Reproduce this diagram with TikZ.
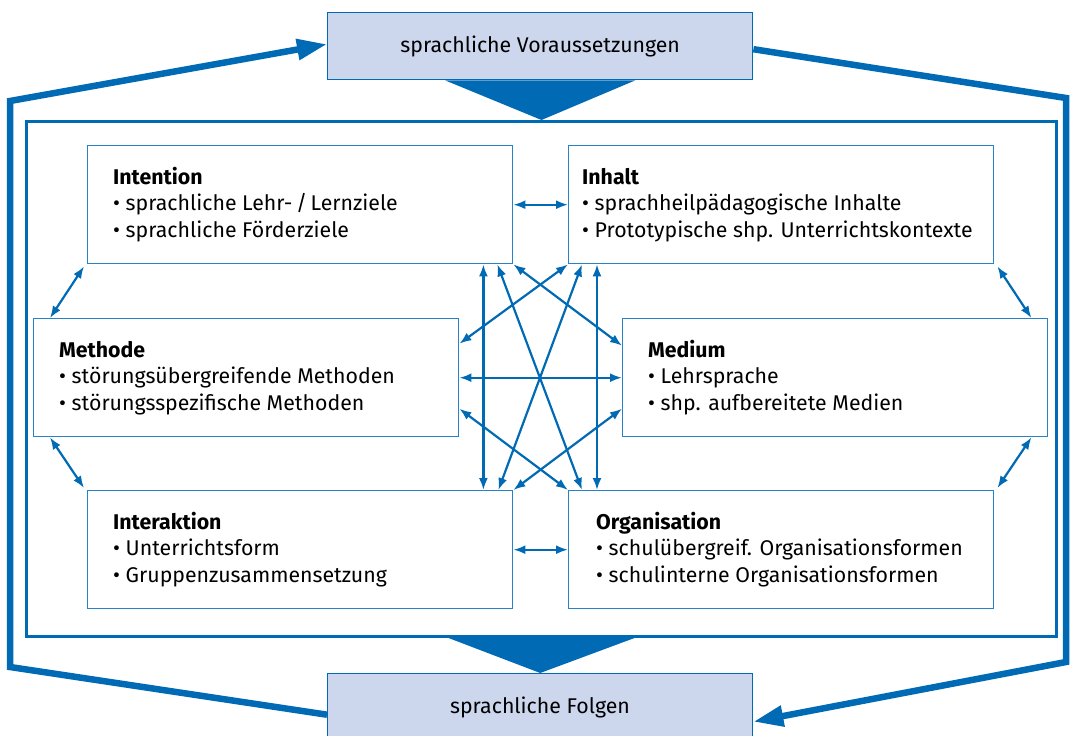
\documentclass[tikz,border=0pt]{standalone}
\usepackage{fontspec}
\setmainfont{Fira Sans}
\usetikzlibrary{arrows.meta,calc}
\definecolor{dblue}{RGB}{0,106,180}
\definecolor{mblue}{RGB}{40,130,200}
\definecolor{lfill}{RGB}{204,215,237}
\tikzset{
  box/.style={draw=mblue, line width=1.4pt, fill=white, minimum width=425pt, minimum height=118pt, anchor=north west, inner sep=0pt},
  endbox/.style={draw=dblue, line width=1.4pt, fill=lfill, minimum width=425pt, anchor=north west, inner sep=0pt},
  txt/.style={anchor=base west, align=left, inner sep=0pt, font=\fontsize{21.3}{26.5}\selectfont},
  dbl/.style={draw=dblue, line width=2.2pt, {Latex[length=12pt,width=9pt]}-{Latex[length=12pt,width=9pt]}},
  loop/.style={draw=dblue, line width=6.5pt, line join=miter},
}
\begin{document}
\begin{tikzpicture}[x=1pt,y=-1pt]
\useasboundingbox (0,0) rectangle (1077,736);
\begin{scope}
\clip (0,0) rectangle (1077,736);
% end boxes
\node[endbox, minimum height=67pt] (top) at (327,12) {};
\node[endbox, minimum height=90pt] (bot) at (327,673) {};
\node[font=\fontsize{21.3}{24}\selectfont] (toptxt) at (top.center) {sprachliche Voraussetzungen};
\node[font=\fontsize{21.3}{24}\selectfont] (bottxt) at (540,707) {sprachliche Folgen};
% inner frame
\node[draw=dblue, line width=3pt, minimum width=1030pt, minimum height=515pt, anchor=north west, inner sep=0pt] (frame) at (25,120) {};
% triangles
\fill[dblue] ($(top.south)+(-95,0)$) -- ($(top.south)+(95,0)$) -- (frame.north) -- cycle;
\fill[dblue] ($(frame.south)+(-93,0)$) -- ($(frame.south)+(93,0)$) -- (bot.north) -- cycle;
% loop arrows
\coordinate (lt) at (10,101);
\coordinate (lb) at (10,667);
\coordinate (rt) at (1066,98);
\coordinate (rb) at (1066,662);
\draw[loop, -{Triangle[length=30pt,width=20pt]}] ([yshift=4pt]bot.west) -- (lb) -- (lt) -- ([yshift=2pt]top.west);
\draw[loop, -{Triangle[length=30pt,width=20pt]}] ([yshift=-3pt]top.east) -- (rt) -- (rb) -- ([yshift=-3pt]bot.east);
\end{scope}
% inner boxes
\node[box] (intent) at (87,145) {};
\node[box] (inhalt) at (568,145) {};
\node[box] (meth) at (33,318) {};
\node[box] (med) at (622,318) {};
\node[box] (inter) at (87,490) {};
\node[box] (orga) at (568,490) {};
% texts (base = baseline of last line)
\node[txt] (t1) at ($(intent.north west)+(26,92)$) {\textbf{Intention}\\• sprachliche Lehr-\,/\,Lernziele\\• sprachliche Förderziele};
\node[txt] (t2) at ($(inhalt.north west)+(14,92)$) {\textbf{Inhalt}\\• sprachheilpädagogische Inhalte\\• Prototypische shp. Unterrichtskontexte};
\node[txt] (t3) at ($(meth.north west)+(26,92)$) {\textbf{Methode}\\• störungsübergreifende Methoden\\• störungsspezifische Methoden};
\node[txt] (t4) at ($(med.north west)+(26,92)$) {\textbf{Medium}\\• Lehrsprache\\• shp. aufbereitete Medien};
\node[txt] (t5) at ($(inter.north west)+(26,92)$) {\textbf{Interaktion}\\• Unterrichtsform\\• Gruppenzusammensetzung};
\node[txt] (t6) at ($(orga.north west)+(28,92)$) {\textbf{Organisation}\\• schulübergreif. Organisationsformen\\• schulinterne Organisationsformen};
% side connectors
\draw[dbl] (intent.east) -- (inhalt.west);
\draw[dbl] (inter.east) -- (orga.west);
\draw[dbl] (meth.east) -- (med.west);
\draw[dbl] ([xshift=-3pt,yshift=-2pt]intent.south west) -- ([xshift=17pt]meth.north west);
\draw[dbl] ([xshift=3pt,yshift=-2pt]inhalt.south east) -- ([xshift=-17pt]med.north east);
\draw[dbl] ([xshift=17pt]meth.south west) -- ([xshift=-3pt,yshift=2pt]inter.north west);
\draw[dbl] ([xshift=-17pt]med.south east) -- ([xshift=3pt,yshift=2pt]orga.north east);
% middle connectors
\draw[dbl] ([xshift=-30pt]intent.south east) -- ([xshift=-30pt]inter.north east);
\draw[dbl] ([xshift=29pt]inhalt.south west) -- ([xshift=29pt]orga.north west);
\draw[dbl] ([xshift=-16pt]intent.south east) -- ([xshift=14pt]orga.north west);
\draw[dbl] ([xshift=14pt]inhalt.south west) -- ([xshift=-15pt]inter.north east);
\draw[dbl] (intent.south east) -- ([yshift=32pt]med.west);
\draw[dbl] (inhalt.south west) -- ([yshift=34pt]meth.east);
\draw[dbl] ([yshift=-31pt]meth.east) -- (orga.north west);
\draw[dbl] ([yshift=-31pt]med.west) -- (inter.north east);
\end{tikzpicture}
\end{document}
